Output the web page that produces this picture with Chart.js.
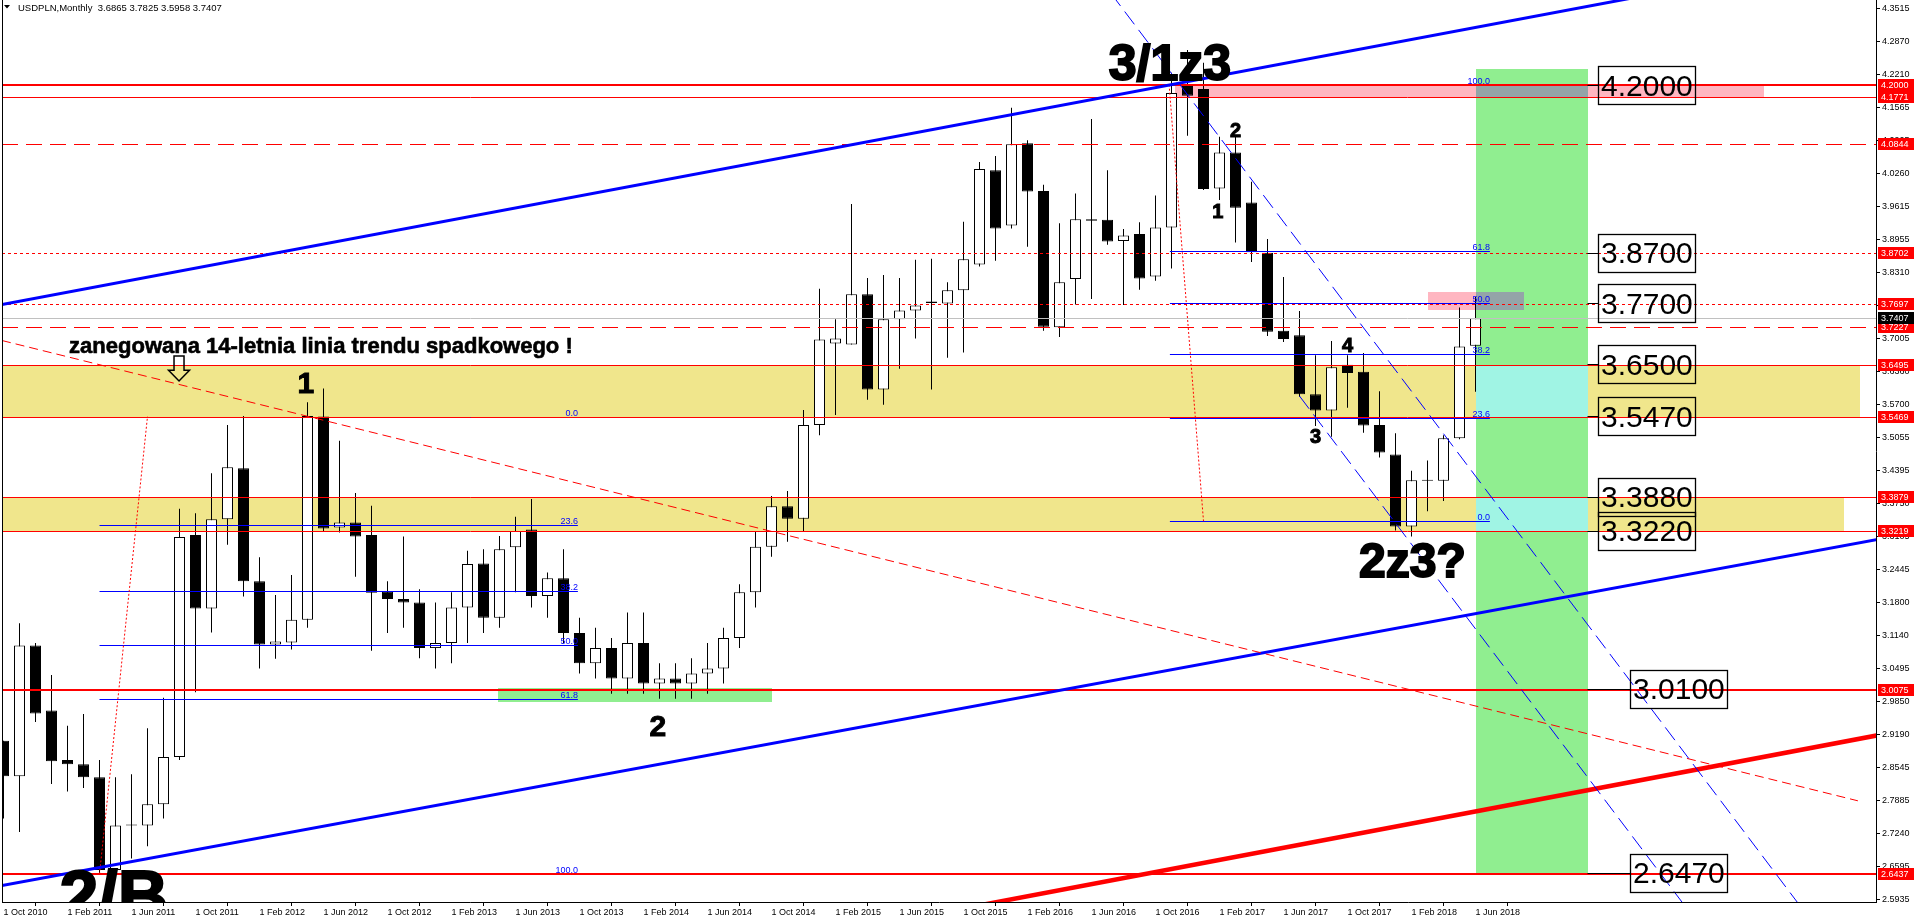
<!DOCTYPE html>
<html>
<head>
<meta charset="utf-8">
<title>USDPLN Monthly</title>
<script src="https://cdn.jsdelivr.net/npm/chart.js@4.4.1/dist/chart.umd.min.js"></script>
<style>
  html, body { margin: 0; padding: 0; background: #fff; overflow: hidden; }
  canvas { display: block; }
</style>
</head>
<body>
<canvas id="usdpln" width="1916" height="923"></canvas>
<script>
// monthly candles, index 0 = Oct 2010 ... index 92 = Jun 2018
const opens = [
  2.907, 2.837, 3.095, 2.967, 2.869, 2.861, 2.835, 2.652, 2.740, 2.740,
  2.782, 2.875, 3.313, 3.168, 3.344, 3.445, 3.222, 3.097, 3.101, 3.146,
  3.547, 3.328, 3.338, 3.313, 3.201, 3.187, 3.180, 3.090, 3.100, 3.170,
  3.257, 3.150, 3.289, 3.324, 3.193, 3.228, 3.120, 3.060, 3.090, 3.030,
  3.100, 3.020, 3.030, 3.020, 3.040, 3.050, 3.110, 3.200, 3.290, 3.370,
  3.345, 3.530, 3.691, 3.689, 3.788, 3.600, 3.739, 3.756, 3.774, 3.770,
  3.796, 3.847, 4.033, 3.924, 4.086, 3.992, 3.723, 3.818, 3.936, 3.935,
  3.893, 3.907, 3.823, 3.920, 4.201, 4.193, 3.997, 4.068, 3.969, 3.870,
  3.716, 3.707, 3.591, 3.559, 3.649, 3.635, 3.530, 3.472, 3.330, 3.420,
  3.420, 3.504, 3.6865
];
const highs = [
  2.907, 3.139, 3.100, 3.037, 2.937, 2.960, 2.869, 2.835, 2.841, 2.932,
  2.992, 3.365, 3.356, 3.435, 3.530, 3.548, 3.269, 3.195, 3.234, 3.575,
  3.602, 3.499, 3.396, 3.371, 3.222, 3.310, 3.206, 3.180, 3.200, 3.282,
  3.285, 3.311, 3.349, 3.384, 3.239, 3.285, 3.150, 3.130, 3.110, 3.160,
  3.160, 3.060, 3.060, 3.070, 3.100, 3.130, 3.216, 3.320, 3.390, 3.400,
  3.560, 3.799, 3.739, 3.966, 3.820, 3.826, 3.820, 3.856, 3.858, 3.812,
  3.931, 4.049, 4.061, 4.156, 4.092, 4.004, 3.928, 3.987, 4.134, 4.033,
  3.917, 3.930, 3.983, 4.225, 4.270, 4.245, 4.099, 4.099, 4.010, 3.897,
  3.822, 3.755, 3.668, 3.696, 3.668, 3.672, 3.597, 3.514, 3.440, 3.460,
  3.510, 3.762, 3.7825
];
const lows = [
  2.754, 2.727, 2.944, 2.822, 2.807, 2.814, 2.6437, 2.648, 2.675, 2.699,
  2.754, 2.869, 3.003, 3.121, 3.294, 3.192, 3.050, 3.069, 3.087, 3.130,
  3.319, 3.318, 3.231, 3.085, 3.120, 3.130, 3.070, 3.050, 3.060, 3.100,
  3.120, 3.130, 3.200, 3.170, 3.150, 3.100, 3.040, 3.030, 3.000, 3.000,
  3.000, 2.990, 2.990, 2.990, 3.000, 3.020, 3.090, 3.170, 3.270, 3.300,
  3.320, 3.510, 3.550, 3.689, 3.580, 3.570, 3.641, 3.701, 3.600, 3.663,
  3.673, 3.843, 3.854, 3.918, 3.882, 3.716, 3.704, 3.768, 3.779, 3.886,
  3.767, 3.797, 3.815, 3.839, 4.101, 3.994, 3.974, 3.890, 3.852, 3.706,
  3.694, 3.586, 3.528, 3.507, 3.564, 3.515, 3.466, 3.322, 3.310, 3.360,
  3.380, 3.502, 3.5958
];
const closes = [
  2.837, 3.095, 2.961, 2.867, 2.861, 2.835, 2.652, 2.740, 2.741, 2.782,
  2.875, 3.309, 3.168, 3.344, 3.447, 3.222, 3.097, 3.103, 3.146, 3.548,
  3.326, 3.338, 3.310, 3.199, 3.187, 3.180, 3.090, 3.100, 3.170, 3.256,
  3.150, 3.285, 3.321, 3.193, 3.228, 3.120, 3.060, 3.090, 3.030, 3.100,
  3.020, 3.030, 3.020, 3.040, 3.050, 3.110, 3.200, 3.290, 3.370, 3.345,
  3.530, 3.699, 3.701, 3.788, 3.600, 3.739, 3.756, 3.766, 3.771, 3.796,
  3.857, 4.035, 3.918, 4.084, 3.991, 3.724, 3.812, 3.936, 3.933, 3.892,
  3.904, 3.819, 3.920, 4.185, 4.180, 3.996, 4.068, 3.959, 3.871, 3.714,
  3.700, 3.591, 3.559, 3.644, 3.633, 3.529, 3.476, 3.330, 3.421, 3.420,
  3.504, 3.685, 3.7407
];

const xTickLabels = ['1 Oct 2010', '1 Feb 2011', '1 Jun 2011', '1 Oct 2011', '1 Feb 2012', '1 Jun 2012',
  '1 Oct 2012', '1 Feb 2013', '1 Jun 2013', '1 Oct 2013', '1 Feb 2014', '1 Jun 2014', '1 Oct 2014',
  '1 Feb 2015', '1 Jun 2015', '1 Oct 2015', '1 Feb 2016', '1 Jun 2016', '1 Oct 2016', '1 Feb 2017',
  '1 Jun 2017', '1 Oct 2017', '1 Feb 2018', '1 Jun 2018'];
const xTickMonths = [0, 4, 8, 12, 16, 20, 24, 28, 32, 36, 40, 44, 48, 52, 56, 60, 64, 68, 72, 76, 80, 84, 88, 92];
const yTickValues = [4.3515, 4.2870, 4.2210, 4.1565, 4.0905, 4.0260, 3.9615, 3.8955, 3.8310, 3.7650,
  3.7005, 3.6360, 3.5700, 3.5055, 3.4395, 3.3750, 3.3105, 3.2445, 3.1800, 3.1140, 3.0495, 2.9850,
  2.9190, 2.8545, 2.7885, 2.7240, 2.6595, 2.5935];

// horizontal levels (also shown as red marks on the price axis)
const levelPrices = [4.2000, 4.1771, 4.0844, 3.8702, 3.7697, 3.7227, 3.6495, 3.5469, 3.3879, 3.3219, 3.0075, 2.6437];
const levelKinds = ['thick', 'solid', 'dash', 'dot', 'dot', 'dash', 'solid', 'solid', 'solid', 'solid', 'thick', 'thick'];

// zones
const bandTops = [3.6495, 3.3879];
const bandBottoms = [3.5469, 3.3219];
const bandEnds = [116, 115];
const pinkTops = [4.2000, 3.7925];
const pinkBottoms = [4.1771, 3.7570];
const pinkStarts = [73.2, 89];
const pinkEnds = [110, 95];
const targetZone = { m1: 92, m2: 99, top: 4.2325, bottom: 2.6437 };
const supportZone = { m1: 30.9, m2: 48, top: 3.0110, bottom: 2.9830 };

// fibonacci retracements: [month start, month end], price of 0 level, price of 100 level
const fibRatios = [0, 23.6, 38.2, 50, 61.8, 100];
const fibMonths = [[6, 35.9], [72.9, 92.9]];
const fibZero = [3.5469, 3.3405];
const fibFull = [2.6437, 4.2015];
const fibAnchorMonths = [[6, 9], [72.85, 75]];

// trend lines, two points each (month, price)
const trendMonths = [[0, 100], [0, 100], [80, 110], [0, 115.9], [72.08, 112.09], [81.0, 104.89]];
const trendPrices = [[3.7682, 4.3620], [2.6219, 3.2046], [2.6960, 2.8753], [3.6961, 2.7887], [4.2621, 2.5896], [3.5873, 2.5896]];

// wave labels
const noteTexts = ['3/1z3', '2z3?', '2/B', '1', '2', '2', '1', '3', '4'];
const noteMonths = [72.9, 88.06, 6.9, 18.9, 40.9, 77.0, 75.9, 82.0, 84.0];
const notePrices = [4.2108, 3.2303, 2.5535, 3.5933, 2.9165, 4.0982, 3.9385, 3.4946, 3.6741];
const commentText = 'zanegowana 14-letnia linia trendu spadkowego !';
const commentAt = [4.1, 3.6722];
const arrowAt = [10.97, 3.6663, 3.6170];

// boxed price targets
const boxTexts = ['4.2000', '3.8700', '3.7700', '3.6500', '3.5470', '3.3880', '3.3220', '3.0100', '2.6470'];
const boxPrices = [4.2000, 3.8700, 3.7700, 3.6500, 3.5470, 3.3880, 3.3220, 3.0100, 2.6470];
const boxMonths = [99.66, 99.66, 99.66, 99.66, 99.66, 99.66, 99.66, 101.66, 101.66];

const FONT = '"Liberation Sans", Arial, sans-serif';
const BLUE = '#0000ff', RED = '#ff0000';

function seg(ctx, x1, y1, x2, y2) {
  ctx.beginPath(); ctx.moveTo(x1, y1); ctx.lineTo(x2, y2); ctx.stroke();
}

const drawings = {
  id: 'drawings',
  beforeDatasetsDraw(chart) {
    const { ctx, chartArea: a, scales: { x, y } } = chart;
    const px = m => x.getPixelForValue(m), py = p => y.getPixelForValue(p);
    const fill = (r, col) => {
      const x1 = Math.round(px(r.m1)), x2 = Math.round(px(r.m2));
      const y1 = Math.round(py(r.top)), y2 = Math.round(py(r.bottom));
      ctx.fillStyle = col;
      ctx.fillRect(x1, y1, x2 - x1, y2 - y1);
    };
    const overlap = (r, s) => ({ m1: Math.max(r.m1, s.m1), m2: Math.min(r.m2, s.m2),
      top: Math.min(r.top, s.top), bottom: Math.max(r.bottom, s.bottom) });
    ctx.save();
    ctx.beginPath(); ctx.rect(a.left, a.top, a.width, a.height); ctx.clip();
    const bands = bandTops.map((t, i) => ({ m1: x.min, m2: bandEnds[i], top: t, bottom: bandBottoms[i] }));
    const pinks = pinkTops.map((t, i) => ({ m1: pinkStarts[i], m2: pinkEnds[i], top: t, bottom: pinkBottoms[i] }));
    bands.forEach(r => fill(r, '#f0e68c'));
    pinks.forEach(r => fill(r, '#ffb6c1'));
    fill(targetZone, '#90ee90');
    bands.forEach(r => { const o = overlap(r, targetZone); if (o.m1 < o.m2 && o.top > o.bottom) fill(o, '#a0f4e4'); });
    pinks.forEach(r => { const o = overlap(r, targetZone); if (o.m1 < o.m2 && o.top > o.bottom) fill(o, '#94a4a8'); });
    fill(supportZone, '#90ee90');
    ctx.restore();
  },
  afterDatasetsDraw(chart) {
    const { ctx, chartArea: a, scales: { x, y } } = chart;
    const px = m => x.getPixelForValue(m), py = p => y.getPixelForValue(p);
    const crisp = v => Math.round(v) + 0.5;
    ctx.save();
    ctx.beginPath(); ctx.rect(a.left, a.top, a.width, a.height); ctx.clip();

    // fibonacci levels
    fibMonths.forEach((mm, k) => {
      const x1 = px(mm[0]), x2 = px(mm[1]);
      ctx.strokeStyle = BLUE; ctx.lineWidth = 1; ctx.setLineDash([]);
      ctx.fillStyle = BLUE; ctx.font = '9px ' + FONT; ctx.textAlign = 'right'; ctx.textBaseline = 'alphabetic';
      fibRatios.forEach(r => {
        const p = fibZero[k] + (fibFull[k] - fibZero[k]) * r / 100;
        const yy = crisp(py(p));
        seg(ctx, x1, yy, x2, yy);
        ctx.fillText(r.toFixed(1), x2, yy - 2);
      });
      ctx.strokeStyle = RED; ctx.setLineDash([2, 2]);
      const am = fibAnchorMonths[k];
      seg(ctx, px(am[0]), py(fibFull[k]), px(am[1]), py(fibZero[k]));
    });
    ctx.setLineDash([]);

    // horizontal levels
    levelPrices.forEach((p, i) => {
      const kind = levelKinds[i];
      ctx.strokeStyle = RED;
      ctx.lineWidth = kind === 'thick' ? 2 : 1;
      ctx.setLineDash(kind === 'dash' ? [16, 8] : kind === 'dot' ? [3, 3] : []);
      const yy = kind === 'thick' ? Math.round(py(p)) : crisp(py(p));
      seg(ctx, a.left, yy, a.right, yy);
    });
    ctx.setLineDash([]);
    // last price line
    ctx.strokeStyle = '#c0c0c0'; ctx.lineWidth = 1;
    const lastY = crisp(py(closes[closes.length - 1]));
    seg(ctx, a.left, lastY, a.right, lastY);

    // trend lines
    const trendStyle = [
      { c: BLUE, w: 3, d: [], ext: [true, true] },
      { c: BLUE, w: 3, d: [], ext: [true, true] },
      { c: RED, w: 4.5, d: [], ext: [true, true] },
      { c: RED, w: 1, d: [9, 5], ext: [true, false] },
      { c: BLUE, w: 1, d: [16, 7], ext: [true, true] },
      { c: BLUE, w: 1, d: [16, 7], ext: [false, true] }
    ];
    trendMonths.forEach((mm, i) => {
      const pp = trendPrices[i], st = trendStyle[i];
      const at = m => pp[0] + (pp[1] - pp[0]) * (m - mm[0]) / (mm[1] - mm[0]);
      const m1 = st.ext[0] ? x.min : mm[0];
      const m2 = st.ext[1] ? x.max + 20 : mm[1];
      ctx.strokeStyle = st.c; ctx.lineWidth = st.w; ctx.setLineDash(st.d);
      seg(ctx, px(m1), py(at(m1)), px(m2), py(at(m2)));
    });
    ctx.setLineDash([]);

    // wave labels
    const noteSizes = [50, 48, 70, 30, 30, 20, 20, 20, 20];
    ctx.fillStyle = '#000'; ctx.strokeStyle = '#000'; ctx.textAlign = 'center'; ctx.textBaseline = 'alphabetic';
    noteTexts.forEach((t, i) => {
      ctx.font = 'bold ' + noteSizes[i] + 'px ' + FONT;
      ctx.lineWidth = noteSizes[i] > 40 ? 2 : 1;
      ctx.fillText(t, px(noteMonths[i]), py(notePrices[i]));
      ctx.strokeText(t, px(noteMonths[i]), py(notePrices[i]));
    });
    ctx.font = 'bold 22px ' + FONT; ctx.textAlign = 'left'; ctx.lineWidth = 0.6;
    ctx.fillText(commentText, px(commentAt[0]), py(commentAt[1]));
    ctx.strokeText(commentText, px(commentAt[0]), py(commentAt[1]));

    // hollow down arrow
    const ax = px(arrowAt[0]), aTop = py(arrowAt[1]), aTip = py(arrowAt[2]);
    const neck = aTop + (aTip - aTop) * 0.57;
    ctx.beginPath();
    ctx.moveTo(ax - 5, aTop); ctx.lineTo(ax + 5, aTop); ctx.lineTo(ax + 5, neck); ctx.lineTo(ax + 10.5, neck);
    ctx.lineTo(ax, aTip); ctx.lineTo(ax - 10.5, neck); ctx.lineTo(ax - 5, neck); ctx.closePath();
    ctx.lineWidth = 1.5; ctx.stroke();

    // boxed price targets
    ctx.font = '30px ' + FONT; ctx.textBaseline = 'middle'; ctx.textAlign = 'left';
    boxTexts.forEach((t, i) => {
      const yy = py(boxPrices[i]);
      const bx = Math.round(px(boxMonths[i])) + 0.5;
      const w = Math.round(ctx.measureText(t).width) + 5;
      ctx.strokeStyle = '#000'; ctx.lineWidth = 1;
      seg(ctx, px(targetZone.m2), crisp(yy), bx, crisp(yy));
      ctx.lineWidth = 1.3;
      ctx.strokeRect(bx, Math.round(yy - 19) + 0.5, w, 38);
      ctx.fillStyle = '#000';
      ctx.fillText(t, bx + 2.5, yy + 2);
    });
    ctx.restore();
  },
  afterDraw(chart) {
    const { ctx, chartArea: a, scales: { y } } = chart;
    ctx.save();
    // left frame
    ctx.strokeStyle = '#000'; ctx.lineWidth = 1;
    seg(ctx, a.left + 0.5, a.top, a.left + 0.5, a.bottom);
    // price axis marks
    ctx.font = '9px ' + FONT; ctx.textBaseline = 'middle'; ctx.textAlign = 'left';
    const mark = (p, bg) => {
      const yy = Math.round(y.getPixelForValue(p));
      ctx.fillStyle = bg; ctx.fillRect(a.right + 2, yy - 6, 36, 12);
      ctx.fillStyle = '#fff'; ctx.fillText(p.toFixed(4), a.right + 5, yy + 0.5);
    };
    levelPrices.forEach(p => mark(p, RED));
    mark(closes[closes.length - 1], '#000');
    // header
    const last = closes.length - 1;
    ctx.fillStyle = '#000';
    ctx.beginPath(); ctx.moveTo(4, 5); ctx.lineTo(10, 5); ctx.lineTo(7, 8.5); ctx.closePath(); ctx.fill();
    ctx.font = '9.5px ' + FONT; ctx.textBaseline = 'middle';
    ctx.fillText('USDPLN,Monthly  ' + [opens[last], highs[last], lows[last], closes[last]].map(v => v.toFixed(4)).join(' '), 18, 8);
    ctx.restore();
  }
};

const months = opens.map((_, i) => i);
new Chart(document.getElementById('usdpln'), {
  type: 'bar',
  data: {
    datasets: [
      {
        label: 'body',
        data: months.map(i => ({ x: i, y: [opens[i], closes[i]] })),
        order: 0, grouped: false, barThickness: 11, minBarLength: 1, inflateAmount: 0,
        backgroundColor: months.map(i => closes[i] >= opens[i] ? '#fff' : '#000'),
        borderColor: '#000', borderWidth: 1, borderSkipped: false
      },
      {
        label: 'wick',
        data: months.map(i => ({ x: i, y: [lows[i], highs[i]] })),
        order: 1, grouped: false, barThickness: 1, inflateAmount: 0,
        backgroundColor: '#000', borderWidth: 0
      }
    ]
  },
  options: {
    responsive: false, animation: false,
    layout: { padding: { left: 2, top: 0, right: 0, bottom: 0 } },
    plugins: { legend: { display: false }, tooltip: { enabled: false } },
    scales: {
      x: {
        type: 'linear', min: -0.09375, max: 117.03125, offset: false,
        afterBuildTicks: s => { s.ticks = xTickMonths.map(v => ({ value: v })); },
        afterFit: s => { s.height = 21; s.paddingLeft = 0; s.paddingRight = 0; },
        grid: { drawOnChartArea: false, drawTicks: true, tickLength: 4, color: '#000' },
        border: { display: true, color: '#000', width: 1 },
        ticks: {
          autoSkip: false, maxRotation: 0, minRotation: 0, align: 'start', padding: 1,
          color: '#000', font: { family: FONT, size: 9 },
          callback: (v, i) => xTickLabels[i]
        }
      },
      y: {
        position: 'right', min: 2.58907, max: 4.36867,
        afterBuildTicks: s => { s.ticks = yTickValues.map(v => ({ value: v })); },
        afterFit: s => { s.width = 40; s.paddingTop = 0; s.paddingBottom = 0; },
        grid: { drawOnChartArea: false, drawTicks: true, tickLength: 4, color: '#000' },
        border: { display: true, color: '#000', width: 1 },
        ticks: {
          autoSkip: false, padding: 2, color: '#000', font: { family: FONT, size: 9 },
          callback: v => v.toFixed(4)
        }
      }
    }
  },
  plugins: [drawings]
});
</script>
</body>
</html>
